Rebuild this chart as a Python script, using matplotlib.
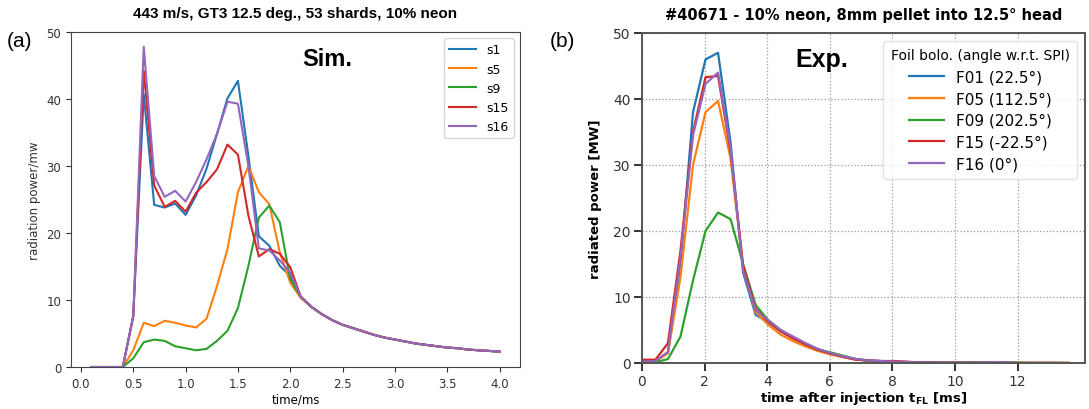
import numpy as np
import matplotlib
matplotlib.use('Agg')
import matplotlib.pyplot as plt

# ---- (a) simulation ----
t_sim = np.round(np.arange(0.1, 4.01, 0.1), 2)
tail = [10.5, 9.0, 7.9, 7.0, 6.3, 5.8, 5.3, 4.8, 4.4, 4.1, 3.8, 3.5, 3.3, 3.1,
        2.9, 2.8, 2.6, 2.5, 2.4, 2.3]
s1 = [0, 0, 0, 0, 7.7, 40.7, 24.2, 23.8, 24.4, 22.7, 25.6, 29.6, 34.8, 40.1,
      42.7, 31.5, 19.5, 18.1, 15.1, 13.6] + tail
s5 = [0, 0, 0, 0, 2.5, 6.6, 6.1, 6.9, 6.6, 6.2, 5.9, 7.2, 12.1, 17.6,
      26.1, 30.0, 26.1, 24.3, 17.1, 12.6] + [10.3] + tail[1:]
s9 = [0, 0, 0, 0, 1.3, 3.7, 4.1, 3.9, 3.1, 2.8, 2.5, 2.7, 3.9, 5.4,
      8.8, 15.1, 22.3, 24.1, 21.6, 13.1] + tail
s15 = [0, 0, 0, 0, 7.5, 44.2, 27.1, 23.9, 24.8, 23.2, 26.0, 27.6, 29.5, 33.2,
       31.7, 22.6, 16.5, 17.6, 16.9, 14.9] + tail
s16 = [0, 0, 0, 0, 7.6, 47.8, 28.5, 25.4, 26.3, 24.7, 27.6, 31.0, 34.8, 39.6,
       39.3, 30.0, 17.7, 17.4, 15.9, 14.1] + tail
sim_labels = ['s1', 's5', 's9', 's15', 's16']

# ---- (b) experiment ----
t_exp = np.round(np.arange(0, 13.61, 0.4), 2) + 0.03
F01 = [0.3, 0.3, 1.5, 15, 38, 46, 47, 33.4, 13.7, 7.3, 6.2, 4.8, 3.8, 2.9, 2.1,
       1.5, 1.0, 0.6, 0.4, 0.3, 0.2, 0.15, 0.1, 0.1, 0.05, 0.05, 0.05, 0.05,
       0.05, 0.05, 0.0, 0.0, 0.0, 0.0, 0.0]
F05 = [0.2, 0.2, 1.5, 13, 30, 38, 39.7, 31, 14.5, 7.7, 5.8, 4.3, 3.3, 2.5, 1.8,
       1.3, 0.9, 0.5, 0.35, 0.25, 0.2, 0.15, 0.1, 0.1, 0.05, 0.05, 0.05, 0.05,
       0.05, 0.05, 0.05, 0.05, 0.05, 0.05, 0.0]
F09 = [0.1, 0.1, 0.6, 4, 12.5, 20, 22.8, 21.8, 15, 8.8, 6.5, 5.0, 3.8, 2.9, 2.0,
       1.6, 1.1, 0.6, 0.3, 0.2, 0.1, 0.1, 0.1, 0.1, 0.05, 0.05, 0.1, 0.05,
       0.05, 0.05, 0.05, 0.0, 0.0, 0.0, 0.0]
F15 = [0.5, 0.5, 3.0, 17, 35, 43.3, 43.5, 32, 14.8, 8.2, 6.3, 4.8, 3.7, 2.8, 2.0,
       1.4, 0.9, 0.5, 0.4, 0.3, 0.3, 0.2, 0.1, 0.1, 0.05, 0.05, 0.05, 0.05,
       0.05, 0.05, 0.0, 0.0, 0.0, 0.0, 0.0]
F16 = [0.2, 0.3, 1.7, 16, 34.5, 42.3, 44, 32.5, 14, 8, 6.5, 5.0, 4.0, 3.0, 2.1,
       1.5, 1.0, 0.6, 0.4, 0.3, 0.2, 0.15, 0.1, 0.1, 0.05, 0.05, 0.05, 0.05,
       0.15, 0.1, 0.0, 0.0, 0.0, 0.0, 0.0]
exp_labels = ['F01 (22.5°)', 'F05 (112.5°)', 'F09 (202.5°)', 'F15 (-22.5°)', 'F16 (0°)']

colors = ['#1f77b4', '#ff7f0e', '#2ca02c', '#d62728', '#9467bd']

fig = plt.figure(figsize=(10.89, 4.10), dpi=100)

# left panel
ax1 = fig.add_axes([0.0652, 0.1024, 0.4123, 0.8171])
for y, lab, c in zip([s1, s5, s9, s15, s16], sim_labels, colors):
    ax1.plot(t_sim, y, color=c, lw=1.5, label=lab)
ax1.set_ylim(0, 50)
ax1.set_xticks(np.arange(0, 4.01, 0.5))
ax1.tick_params(labelsize=8.5, colors='#333333')
for sp in ax1.spines.values():
    sp.set_color('#444444')
ax1.set_xlabel('time/ms', fontsize=8.5, labelpad=2)
ax1.set_ylabel('radiation power/mw', fontsize=8.5, color='#333333')
ax1.legend(loc='upper right', fontsize=9, handlelength=2.2)
ax1.text(0.57, 0.92, 'Sim.', transform=ax1.transAxes, ha='center', va='center',
         fontsize=17, fontweight='bold', family='Liberation Sans')
ax1.set_title('443 m/s, GT3 12.5 deg., 53 shards, 10% neon', fontsize=11,
              fontweight='bold', family='Liberation Sans', pad=11)

# right panel
ax2 = fig.add_axes([0.5895, 0.1122, 0.4068, 0.8049])
for y, lab, c in zip([F01, F05, F09, F15, F16], exp_labels, colors):
    ax2.plot(t_exp, y, color=c, lw=1.6, label=lab)
ax2.set_xlim(0, 14.15)
ax2.set_ylim(0, 50)
ax2.set_xticks(np.arange(0, 13, 2))
ax2.grid(True, color='#999999', linestyle=':', linewidth=0.9)
ax2.tick_params(labelsize=10, colors='#333333', length=6, width=1.4, pad=2)
for sp in ax2.spines.values():
    sp.set_color('#555555')
    sp.set_linewidth(1.4)
ax2.set_xlabel(r'time after injection $\mathregular{t_{FL}}$ [ms]', fontsize=9.5,
               fontweight='bold', labelpad=1)
ax2.set_ylabel('radiated power [MW]', fontsize=9.5, fontweight='bold', labelpad=8)
leg = ax2.legend(loc='upper right', fontsize=11, title='Foil bolo. (angle w.r.t. SPI)',
                 title_fontsize=10, fancybox=True, framealpha=0.8,
                 handlelength=2.3, borderpad=0.5, labelspacing=0.45)
leg.get_frame().set_edgecolor('#dddddd')
ax2.text(0.406, 0.92, 'Exp.', transform=ax2.transAxes, ha='center', va='center',
         fontsize=18, fontweight='bold', family='Liberation Sans')
ax2.set_title('#40671 - 10% neon, 8mm pellet into 12.5° head', fontsize=10.5,
              fontweight='bold', pad=10)

fig.text(0.006, 0.885, '(a)', fontsize=15, family='Liberation Sans')
fig.text(0.505, 0.885, '(b)', fontsize=15, family='Liberation Sans')

fig.savefig('out.png', dpi=100)
